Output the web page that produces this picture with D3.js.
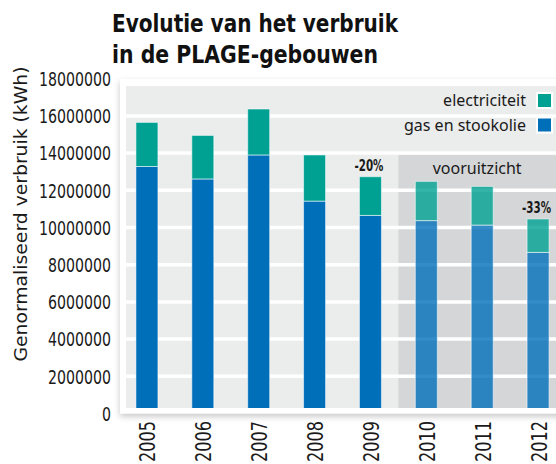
<!DOCTYPE html>
<html>
<head>
<meta charset="utf-8">
<script src="https://cdn.jsdelivr.net/npm/d3@7"></script>
<style>
  html, body { margin: 0; padding: 0; background: #ffffff; }
  svg { display: block; }
</style>
</head>
<body>
<div id="chart"></div>
<script>
// ---- data ----
const years = ["2005", "2006", "2007", "2008", "2009", "2010", "2011", "2012"];
const gasValues = [13280000, 12610000, 13900000, 11420000, 10650000, 10370000, 10130000, 8660000];
const elecValues = [2370000, 2340000, 2470000, 2480000, 2080000, 2110000, 2080000, 1800000];
const forecastYears = ["2010", "2011", "2012"];
const yTicks = [0, 2000000, 4000000, 6000000, 8000000, 10000000, 12000000, 14000000, 16000000, 18000000];
const seriesNames = ["electriciteit", "gas en stookolie"];
const annotations = [{ year: "2009", text: "-20%" }, { year: "2012", text: "-33%" }];
const titleLines = ["Evolutie van het verbruik", "in de PLAGE-gebouwen"];
const yTitle = "Genormaliseerd verbruik (kWh)";
const forecastLabel = "vooruitzicht";

// ---- layout ----
const W = 556, H = 464;
const colGas = "#006fb9", colElec = "#00a193";
const condensed = "'Liberation Sans Narrow', 'DejaVu Sans Condensed', sans-serif";
const svg = d3.select("#chart").append("svg").attr("width", W).attr("height", H);

const defs = svg.append("defs");
const f = defs.append("filter").attr("id", "shadow").attr("x", "-10%").attr("y", "-10%").attr("width", "130%").attr("height", "130%");
f.append("feDropShadow").attr("dx", 0).attr("dy", 3).attr("stdDeviation", 3).attr("flood-color", "#000").attr("flood-opacity", 0.22);
defs.append("clipPath").attr("id", "inner").append("rect")
  .attr("x", 126).attr("y", 86).attr("width", W - 126).attr("height", 408 - 86);

const y = d3.scaleLinear().domain([0, 18000000]).range([413.5, 78.7]);
const x = d3.scalePoint().domain(years).range([119, 566]).padding(0.5);
const barW = 22;

// title
const titleWidths = [286, 266];
titleLines.forEach((t, i) => {
  svg.append("text").attr("x", 112).attr("y", 32 + i * 31)
    .style("font-family", condensed).style("font-weight", "bold").style("font-size", "25.5px")
    .attr("fill", "#111").attr("textLength", titleWidths[i]).attr("lengthAdjust", "spacingAndGlyphs")
    .text(t);
});

// panel
svg.append("rect").attr("x", 120).attr("y", 79).attr("width", W - 120 + 10).attr("height", 413.5 - 79)
  .attr("fill", "#ffffff").attr("filter", "url(#shadow)");
svg.append("rect").attr("x", 126).attr("y", 86).attr("width", W - 126).attr("height", 408 - 86).attr("fill", "#ebecec");
const fx0 = x(forecastYears[0]) - x.step() / 2;
svg.append("rect").attr("x", fx0).attr("y", y(14000000) + 1.8).attr("width", W - fx0)
  .attr("height", 408 - (y(14000000) + 1.8)).attr("fill", "#d5d6d8");

// grid lines
svg.append("g").selectAll("line").data(yTicks.filter(d => d > 0 && d < 18000000)).join("line")
  .attr("x1", 126).attr("x2", W).attr("y1", d => y(d)).attr("y2", d => y(d))
  .attr("stroke", "#ffffff").attr("stroke-width", 3.5);

// y axis
const yAxis = d3.axisLeft(y).tickValues(yTicks).tickFormat(d3.format("d")).tickSize(0).tickPadding(0);
const ya = svg.append("g").attr("transform", "translate(111,0)").call(yAxis);
ya.select(".domain").remove();
ya.selectAll("text")
  .style("font-family", condensed).style("font-size", "19px").attr("fill", "#1a1a1a").attr("dy", "0.36em")
  .attr("textLength", function () { return 9 * this.textContent.length; })
  .attr("lengthAdjust", "spacingAndGlyphs");

// y title
svg.append("text").attr("transform", "translate(27,214) rotate(-90)").attr("text-anchor", "middle")
  .style("font-family", "'DejaVu Sans', sans-serif").style("font-size", "18px").attr("fill", "#1a1a1a")
  .attr("textLength", 295).attr("lengthAdjust", "spacingAndGlyphs")
  .text(yTitle);

// x axis
const xAxis = d3.axisBottom(x).tickSize(0).tickPadding(0);
const xa = svg.append("g").attr("transform", "translate(0,421)").call(xAxis);
xa.select(".domain").remove();
xa.selectAll("text")
  .style("font-family", condensed).style("font-size", "21px").attr("fill", "#1a1a1a")
  .attr("text-anchor", "end").attr("dy", null).attr("y", 0)
  .attr("textLength", 41).attr("lengthAdjust", "spacingAndGlyphs")
  .attr("transform", "rotate(-90) translate(0,8)");

// bars
const isF = d => forecastYears.includes(d);
const bars = svg.append("g").attr("clip-path", "url(#inner)");
const data = years.map((yr, i) => ({ yr, gas: gasValues[i], elec: elecValues[i] }));
bars.selectAll("rect.gas").data(data).join("rect").attr("class", "gas")
  .attr("x", d => x(d.yr) - barW / 2).attr("width", barW)
  .attr("y", d => y(d.gas)).attr("height", d => y(0) - y(d.gas))
  .attr("fill", colGas).attr("fill-opacity", d => isF(d.yr) ? 0.8 : 1)
  .attr("stroke", "#ffffff").attr("stroke-opacity", 0.55).attr("stroke-width", 1);
bars.selectAll("rect.elec").data(data).join("rect").attr("class", "elec")
  .attr("x", d => x(d.yr) - barW / 2).attr("width", barW)
  .attr("y", d => y(d.gas + d.elec)).attr("height", d => y(d.gas) - y(d.gas + d.elec))
  .attr("fill", colElec).attr("fill-opacity", d => isF(d.yr) ? 0.8 : 1)
  .attr("stroke", "#ffffff").attr("stroke-opacity", 0.55).attr("stroke-width", 1);

// annotations
svg.append("g").selectAll("text").data(annotations).join("text")
  .attr("x", d => x(d.year) - 1.5).attr("y", d => {
    const i = years.indexOf(d.year);
    return y(gasValues[i] + elecValues[i]) - 6;
  })
  .attr("text-anchor", "middle")
  .style("font-family", condensed).style("font-weight", "bold").style("font-size", "15px").attr("fill", "#1a1a1a")
  .attr("textLength", 29).attr("lengthAdjust", "spacingAndGlyphs")
  .text(d => d.text);

// forecast label
svg.append("text").attr("x", (fx0 + W) / 2).attr("y", 174).attr("text-anchor", "middle")
  .style("font-family", "'Noto Sans', sans-serif").style("font-size", "16px").attr("fill", "#1a1a1a")
  .text(forecastLabel);

// legend
const legCols = [colElec, colGas];
const leg = svg.append("g");
seriesNames.forEach((n, i) => {
  const cy = 101 + i * 24.5;
  leg.append("rect").attr("x", 537).attr("y", cy - 8).attr("width", 15).attr("height", 15)
    .attr("fill", legCols[i]).attr("stroke", "#ffffff").attr("stroke-width", 2);
  leg.append("text").attr("x", 526).attr("y", cy + 5).attr("text-anchor", "end")
    .style("font-family", "'Noto Sans', sans-serif").style("font-size", "16px").attr("fill", "#1a1a1a")
    .text(n);
});
</script>
</body>
</html>
